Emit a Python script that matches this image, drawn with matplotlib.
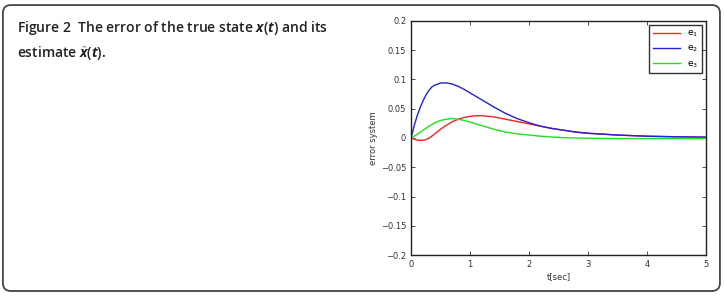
import matplotlib
matplotlib.use("Agg")
from matplotlib import pyplot as plt
from matplotlib.patches import FancyBboxPatch

t = [0, 0.05, 0.1, 0.15, 0.2, 0.25, 0.3, 0.35, 0.4, 0.5, 0.6, 0.7, 0.8, 0.9, 1.0,
     1.1, 1.2, 1.4, 1.6, 1.8, 2.0, 2.2, 2.4, 2.6, 2.8, 3.0, 3.5, 4.0, 4.5, 5.0]
e1 = [0, -0.002, -0.0035, -0.004, -0.004, -0.003, -0.0005, 0.003, 0.007, 0.015,
      0.022, 0.028, 0.032, 0.035, 0.037, 0.038, 0.038, 0.036, 0.032, 0.028,
      0.024, 0.020, 0.016, 0.013, 0.010, 0.008, 0.005, 0.003, 0.002, 0.0012]
e2 = [0, 0.020, 0.037, 0.051, 0.063, 0.073, 0.081, 0.087, 0.090, 0.094,
      0.094, 0.092, 0.088, 0.083, 0.077, 0.071, 0.065, 0.053, 0.042, 0.033,
      0.026, 0.020, 0.016, 0.013, 0.010, 0.008, 0.005, 0.003, 0.002, 0.0015]
e3 = [0, 0.003, 0.006, 0.0095, 0.013, 0.0165, 0.020, 0.023, 0.026, 0.030,
      0.032, 0.033, 0.032, 0.030, 0.027, 0.024, 0.021, 0.015, 0.010, 0.007,
      0.005, 0.003, 0.0015, 0.0005, 0, -0.0005, -0.001, -0.001, -0.001, -0.0008]
names = ['e$_\\mathsf{1}$', 'e$_\\mathsf{2}$', 'e$_\\mathsf{3}$']
colors = ['#ff2020', '#2020e0', '#20e020']

plt.rcParams['mathtext.fontset'] = 'custom'
plt.rcParams['mathtext.it'] = 'Open Sans:italic:bold'
plt.rcParams['mathtext.rm'] = 'Open Sans:semibold'
plt.rcParams['mathtext.sf'] = 'DejaVu Sans'

fig = plt.figure(figsize=(7.25, 2.98), dpi=100)

# rounded frame round the whole figure
frame = FancyBboxPatch((0.004, 0.0235), 0.989, 0.9595, boxstyle="round,pad=0,rounding_size=0.011",
                       transform=fig.transFigure, fill=False, edgecolor='#444444', linewidth=1.3,
                       mutation_aspect=725 / 298)
fig.patches.append(frame)

fig.text(0.024, 0.935, 'Figure 2  The error of the true state $x$($t$) and its\nestimate $\\hat{x}$($t$).',
         fontsize=10, fontweight='semibold', family='Open Sans', va='top', ha='left',
         linespacing=1.5, color='#222222')

ax = fig.add_axes([0.567, 0.144, 0.407, 0.786])
for y, name, c in zip([e1, e2, e3], names, colors):
    ax.plot(t, y, color=c, linewidth=1, label=name)

ax.set_xlim(0, 5)
ax.set_ylim(-0.2, 0.2)
ax.set_xticks([0, 1, 2, 3, 4, 5])
ax.set_yticks([-0.2, -0.15, -0.1, -0.05, 0, 0.05, 0.1, 0.15, 0.2])
ax.set_yticklabels(['\u22120.2', '\u22120.15', '\u22120.1', '\u22120.05', '0', '0.05', '0.1', '0.15', '0.2'])
ax.tick_params(direction='in', top=True, right=True, labelsize=6, length=3, width=0.6,
               colors='#333333', labelcolor='#333333')
for s in ax.spines.values():
    s.set_linewidth(1)
    s.set_color('#222222')
ax.set_xlabel('t[sec]', fontsize=6, labelpad=2, color='#333333')
ax.set_ylabel('error system', fontsize=6, labelpad=2, color='#333333')
leg = ax.legend(loc='upper right', fontsize=6.5, frameon=True, fancybox=False,
                edgecolor='black', handlelength=3.0, borderpad=0.4, labelspacing=0.5)
leg.get_frame().set_linewidth(1)

plt.savefig('out.png', dpi=100)
